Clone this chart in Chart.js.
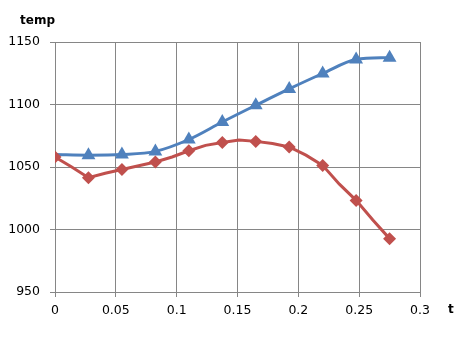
<!DOCTYPE html>
<html>
<head>
<meta charset="utf-8">
<script src="https://cdn.jsdelivr.net/npm/chart.js@4"></script>
<style>
  html, body { margin: 0; padding: 0; background: #fff; }
  #wrap { width: 467px; height: 341px; }
</style>
</head>
<body>
<div id="wrap"><canvas id="graph" width="467" height="341"></canvas></div>
<script>
// blue series (triangles), first point has no marker
const tBlue = [0, 0.0275, 0.055, 0.0825, 0.11, 0.1375, 0.165, 0.1925, 0.22, 0.2475, 0.275];
const tempBlue = [1060, 1059.5, 1060, 1062.5, 1072, 1086, 1099.4, 1112.5, 1124.8, 1136, 1137.5];
const blueMarker = [0, 1, 1, 1, 1, 1, 1, 1, 1, 1, 1];

// red series (diamonds), marker on every other point
const tRed = [0, 0.01375, 0.0275, 0.04125, 0.055, 0.06875, 0.0825, 0.09625, 0.11, 0.12375,
  0.1375, 0.15125, 0.165, 0.17875, 0.1925, 0.20625, 0.22, 0.23375, 0.2475, 0.26125, 0.275];
const tempRed = [1058, 1050, 1041.4, 1045, 1048, 1051, 1054, 1058, 1063, 1067.3,
  1069.6, 1071.5, 1070.5, 1068.8, 1066, 1059.5, 1051.3, 1036.3, 1023.3, 1007.6, 992.7];

const xTicks = [0, 0.05, 0.1, 0.15, 0.2, 0.25, 0.3];
const yTicks = [950, 1000, 1050, 1100, 1150];

const blueColor = '#4F81BD';
const redColor = '#C0504D';
const gridColor = '#868686';
const fontFamily = '"DejaVu Sans", Verdana, sans-serif';

const toPoints = (xs, ys) => xs.map((x, i) => ({ x: x, y: ys[i] }));

// axis titles sit outside the plot like in the original
const axisTitles = {
  id: 'axisTitles',
  afterDraw(chart) {
    const ctx = chart.ctx;
    ctx.save();
    ctx.fillStyle = '#000';
    ctx.font = 'bold 12px ' + fontFamily;
    ctx.textBaseline = 'middle';
    ctx.textAlign = 'left';
    ctx.fillText('temp', 20, 21);
    ctx.fillText('t', 448, 310);
    ctx.restore();
  }
};

const ctx = document.getElementById('graph').getContext('2d');
const lineChart = new Chart(ctx, {
  type: 'line',
  data: {
    datasets: [
      {
        label: 'red',
        data: toPoints(tRed, tempRed),
        borderColor: redColor,
        backgroundColor: redColor,
        borderWidth: 3,
        pointStyle: 'rectRot',
        pointRadius: tRed.map((t, i) => (i % 2 === 0 ? 6.5 : 0)),
        pointBorderWidth: 0,
        tension: 0,
        fill: false,
      },
      {
        label: 'blue',
        data: toPoints(tBlue, tempBlue),
        borderColor: blueColor,
        backgroundColor: blueColor,
        borderWidth: 3,
        pointStyle: 'triangle',
        pointRadius: blueMarker.map(m => (m ? 8 : 0)),
        pointBorderWidth: 0,
        cubicInterpolationMode: 'monotone',
        fill: false,
      }
    ]
  },
  options: {
    responsive: false,
    animation: false,
    layout: {
      padding: { left: 0, right: 47, top: 42, bottom: 17 }
    },
    scales: {
      x: {
        type: 'linear',
        min: 0,
        max: 0.3,
        afterBuildTicks: (scale) => { scale.ticks = xTicks.map(v => ({ value: v })); },
        ticks: {
          color: '#000',
          font: { family: fontFamily, size: 12.5 },
          padding: 6,
          maxRotation: 0,
          callback: (v) => String(v),
        },
        grid: { color: gridColor, lineWidth: 1, tickLength: 5 },
        border: { color: gridColor, width: 1 },
      },
      y: {
        min: 950,
        max: 1150,
        afterBuildTicks: (scale) => { scale.ticks = yTicks.map(v => ({ value: v })); },
        afterFit: (scale) => { scale.width = 55; },
        ticks: {
          color: '#000',
          font: { family: fontFamily, size: 12.5 },
          padding: 10,
          callback: (v) => String(v),
        },
        grid: { color: gridColor, lineWidth: 1, tickLength: 5 },
        border: { color: gridColor, width: 1 },
      }
    },
    plugins: {
      legend: { display: false },
      tooltip: { enabled: false },
    }
  },
  plugins: [axisTitles]
});
</script>
</body>
</html>
